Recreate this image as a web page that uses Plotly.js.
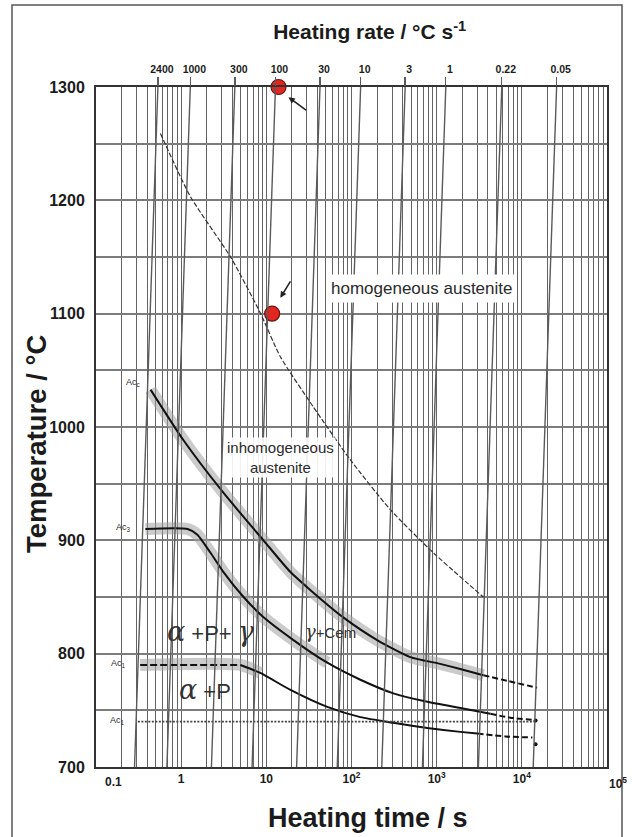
<!DOCTYPE html>
<html>
<head>
<meta charset="utf-8">
<script src="https://cdn.plot.ly/plotly-3.0.1.min.js"></script>
<style>
  html, body { margin: 0; padding: 0; background: #fff; }
  #chart { width: 632px; height: 837px; }
</style>
</head>
<body>
<div id="chart"></div>
<script>
// Continuous heating transformation diagram: temperature vs. heating time (log).

// Constant heating-rate lines (°C/s), heating from room temperature
const heatingRates = [2400, 1000, 300, 100, 30, 10, 3, 1, 0.22, 0.05];
const rateLabels = ['2400', '1000', '300', '100', '30', '10', '3', '1', '0.22', '0.05'];
const startTemp = 20;

// Bottom axis decades
const timeDecades = [0.1, 1, 10, 100, 1000, 10000, 100000];
const timeLabels = ['0.1', '1', '10', '10<sup>2</sup>', '10<sup>3</sup>', '10<sup>4</sup>', '10<sup>5</sup>'];

// Temperature axis
const tempTicks = [700, 800, 900, 1000, 1100, 1200, 1300];

// Upper boundary: inhomogeneous austenite / γ+Cem
const accmTime = [0.437, 1.06, 3.13, 9.25, 19.2, 33, 80, 200, 490, 1100, 1890, 3530];
const accmTemp = [1033, 988.5, 942, 900, 872, 856, 832, 812, 797, 791, 786.5, 781];
const accmTailTime = [3530, 6760, 15100];
const accmTailTemp = [781, 776, 770];

// Ac3 boundary
const ac3Time = [0.38, 1.19, 1.55, 2.21, 3.14, 5.4, 9.0, 20.8, 52, 127, 310, 776, 1900, 4270];
const ac3Temp = [910, 910, 905, 889, 872, 850, 833, 812, 792, 777, 765, 757.5, 752, 747];
const ac3TailTime = [4270, 7330, 14500];
const ac3TailTemp = [747, 743.5, 741.5];

// Ac1 boundary (flat dashed start, then falling)
const ac1FlatTime = [0.33, 4.97];
const ac1FlatTemp = [790, 790];
const ac1Time = [4.97, 8.5, 19.2, 52, 127, 310, 776, 1900, 3000];
const ac1Temp = [790, 783, 768, 753, 744, 739, 734.5, 731, 729.5];
const ac1TailTime = [3000, 6400, 13300];
const ac1TailTemp = [729.5, 727, 726];

// Equilibrium Ac1 level (dotted)
const ae1Time = [0.31, 14500];
const ae1Temp = [740, 740];

// End-of-curve markers
const endTime = [14500, 14500];
const endTemp = [741, 720];

// Homogeneous austenite boundary (thin dashed)
const homTime = [0.571, 1.29, 3.8, 8.5, 14.6, 35.7, 97, 286, 915, 3530];
const homTemp = [1259, 1203, 1150, 1100.6, 1062, 1017.6, 971, 927, 889, 850];

// Marked samples
const sampleTime = [13.9, 11.7];
const sampleTemp = [1300, 1100];

// Scatter bands along the boundaries
const bandAccmPoints = 12;
const bandAc3Points = 9;
const bandAc1Time = [0.33, 4.97, 8.5];
const bandAc1Temp = [790, 790, 783];

const FONT = 'Liberation Sans, Arial, Helvetica, sans-serif';
const SERIF = 'DejaVu Serif, serif';
const INK = '#1b1b1b';

// time grid: every integer multiple within each decade, labels on decades only
const gridVals = [], gridText = [];
for (let d = -1; d <= 5; d++) {
  for (let m = 1; m <= 9; m++) {
    const v = m * Math.pow(10, d);
    if (v > 100000 * 1.0001) break;
    gridVals.push(v);
    const idx = timeDecades.findIndex(t => Math.abs(t - v) / v < 1e-6);
    // end decades are labelled separately, slightly inset
    gridText.push(idx > 0 && idx < timeDecades.length - 1 ? timeLabels[idx] : '');
  }
}

// temperature grid every 50 °C, labels every 100 °C
const tempGrid = [], tempText = [];
for (let T = 700; T <= 1300; T += 50) {
  tempGrid.push(T);
  tempText.push(tempTicks.includes(T) ? String(T) : '');
}

// heating-rate lines from 700 °C to 1300 °C
const rateX = [], rateY = [];
heatingRates.forEach(r => {
  rateX.push((700 - startTemp) / r, (1300 - startTemp) / r, null);
  rateY.push(700, 1300, null);
});
const rateTopTimes = heatingRates.map(r => (1300 - startTemp) / r);

const band = (x, y) => ({
  x, y, type: 'scatter', mode: 'lines', hoverinfo: 'skip', showlegend: false,
  line: { color: 'rgba(160,160,160,0.55)', width: 12, shape: 'spline', smoothing: 0.6 }
});
const curve = (x, y, dash, width, color, shape) => ({
  x, y, type: 'scatter', mode: 'lines', hoverinfo: 'skip', showlegend: false,
  line: { color: color || '#111', width: width || 2, dash: dash || 'solid',
          shape: shape || 'spline', smoothing: 0.6 }
});

const traces = [
  { x: rateX, y: rateY, xaxis: 'x2', yaxis: 'y', type: 'scatter', mode: 'lines',
    hoverinfo: 'skip', showlegend: false, line: { color: '#5a5a5a', width: 1.4 } },
  band(accmTime.slice(0, bandAccmPoints), accmTemp.slice(0, bandAccmPoints)),
  band(ac3Time.slice(0, bandAc3Points), ac3Temp.slice(0, bandAc3Points)),
  band(bandAc1Time, bandAc1Temp),
  curve(accmTime, accmTemp),
  curve(accmTailTime, accmTailTemp, '6px,3px'),
  curve(ac3Time, ac3Temp),
  curve(ac3TailTime, ac3TailTemp, '6px,3px'),
  curve(ac1FlatTime, ac1FlatTemp, '7px,3px', 2, '#111', 'linear'),
  curve(ac1Time, ac1Temp),
  curve(ac1TailTime, ac1TailTemp, '6px,3px'),
  curve(ae1Time, ae1Temp, '2px,1.5px', 1.6, '#444', 'linear'),
  curve(homTime, homTemp, '5px,2px', 1.2, '#333'),
  { x: endTime, y: endTemp, type: 'scatter', mode: 'markers', hoverinfo: 'skip', showlegend: false,
    marker: { color: '#111', size: 4 } },
  { x: sampleTime, y: sampleTemp, type: 'scatter', mode: 'markers', hoverinfo: 'skip', showlegend: false,
    cliponaxis: false, marker: { color: '#e3261f', size: 15, line: { color: '#6a1410', width: 1.2 } } }
];

const lg = Math.log10;
const txt = (t, T, text, size, extra) => Object.assign({
  x: lg(t), y: T, xref: 'x', yref: 'y', text, showarrow: false,
  font: { family: FONT, size: size, color: '#2a2a2a' }
}, extra || {});
const greek = (s, size) => `<span style="font-family:${SERIF};font-style:italic;font-size:${size}px">${s}</span>`;

const annotations = [
  txt(660, 1122, 'homogeneous austenite', 17, { bgcolor: '#fff', borderpad: 4 }),
  txt(14.6, 973, 'inhomogeneous<br>austenite', 15, { bgcolor: 'rgba(255,255,255,0.9)' }),
  txt(2.25, 820, greek('α', 27) + ' +P+ ' + greek('γ', 27), 22, { font: { family: FONT, size: 22, color: '#333' } }),
  txt(56, 820, greek('γ', 18) + '+Cem', 15, { font: { family: FONT, size: 15, color: '#333' } }),
  txt(1.9, 768, greek('α', 27) + ' +P', 22, { font: { family: FONT, size: 22, color: '#333' } }),
  txt(0.27, 1039, 'Ac<sub>c</sub>', 9),
  txt(0.21, 911, 'Ac<sub>3</sub>', 9),
  txt(0.184, 791, 'Ac<sub>1</sub>', 9),
  txt(0.18, 741, 'Ac<sub>1</sub>', 9),
  // end decades of the time axis, inset from the frame corners
  { x: lg(timeDecades[0]), y: 0, xref: 'x', yref: 'paper', yanchor: 'top', yshift: -6, xshift: 17,
    text: timeLabels[0], showarrow: false, font: { family: FONT, size: 12, color: INK, weight: 'bold' } },
  { x: lg(timeDecades[6]), y: 0, xref: 'x', yref: 'paper', yanchor: 'top', yshift: -6, xshift: 11,
    text: timeLabels[6], showarrow: false, font: { family: FONT, size: 12, color: INK, weight: 'bold' } },
  // axis titles
  { x: (368 - 96) / 511, y: (767 - 818) / 680, xref: 'paper', yref: 'paper', showarrow: false,
    xanchor: 'center', yanchor: 'middle',
    text: '<b>Heating time / s</b>', font: { family: FONT, size: 27, color: INK } },
  { x: (36 - 96) / 511, y: (767 - 444) / 680, xref: 'paper', yref: 'paper', showarrow: false,
    xanchor: 'center', yanchor: 'middle',
    textangle: -90, text: '<b>Temperature / °C</b>', font: { family: FONT, size: 27.5, color: INK } },
  // arrows pointing at the marked samples
  { x: lg(18.2), y: 1291, xref: 'x', yref: 'y', ax: 19, ay: 14, showarrow: true,
    arrowhead: 2, arrowsize: 0.8, arrowwidth: 1.6, arrowcolor: '#222', text: '' },
  { x: lg(14.6), y: 1114, xref: 'x', yref: 'y', ax: 11, ay: -18, showarrow: true,
    arrowhead: 2, arrowsize: 0.8, arrowwidth: 1.6, arrowcolor: '#222', text: '' }
];

const layout = {
  width: 632, height: 837,
  margin: { l: 96, r: 25, t: 87, b: 70 },
  paper_bgcolor: '#fff', plot_bgcolor: '#fff',
  showlegend: false,
  font: { family: FONT, color: INK },
  title: {
    text: '<b>Heating rate / °C s<sup>-1</sup></b>',
    font: { family: FONT, size: 21, color: INK },
    x: 0.585, xanchor: 'center', xref: 'container',
    y: 1 - 32 / 837, yanchor: 'middle', yref: 'container'
  },
  xaxis: {
    type: 'log', range: [-1, 5], tickmode: 'array', tickvals: gridVals, ticktext: gridText,
    showgrid: true, gridcolor: '#636363', gridwidth: 1,
    showline: true, linecolor: '#333', linewidth: 2, mirror: true,
    ticks: '', zeroline: false,
    tickfont: { family: FONT, size: 12, color: INK, weight: 'bold' }
  },
  xaxis2: {
    type: 'log', range: [-1, 5], overlaying: 'x', side: 'top', anchor: 'y',
    tickmode: 'array', tickvals: rateTopTimes, ticktext: rateLabels,
    showgrid: false, showline: false, zeroline: false,
    ticks: 'outside', ticklen: 9, tickwidth: 1.4, tickcolor: '#5a5a5a',
    ticklabelshift: 4,
    tickfont: { family: FONT, size: 10.5, color: INK, weight: 'bold' }
  },
  yaxis: {
    range: [700, 1300], tickmode: 'array', tickvals: tempGrid, ticktext: tempText,
    showgrid: true, gridcolor: '#7c7c7c', gridwidth: 2,
    showline: true, linecolor: '#333', linewidth: 2, mirror: true,
    ticks: '', zeroline: false, ticklabelstandoff: 6,
    tickfont: { family: FONT, size: 16, color: INK, weight: 'bold' }
  },
  shapes: [
    { type: 'rect', xref: 'paper', yref: 'paper',
      x0: (12 - 96) / 511, x1: (622 - 96) / 511, y0: (767 - 842) / 680, y1: (767 - 5) / 680,
      line: { color: '#555', width: 1.5 }, fillcolor: 'rgba(0,0,0,0)', layer: 'below' }
  ],
  annotations
};

Plotly.newPlot('chart', traces, layout, { staticPlot: true, displayModeBar: false });
</script>
</body>
</html>
